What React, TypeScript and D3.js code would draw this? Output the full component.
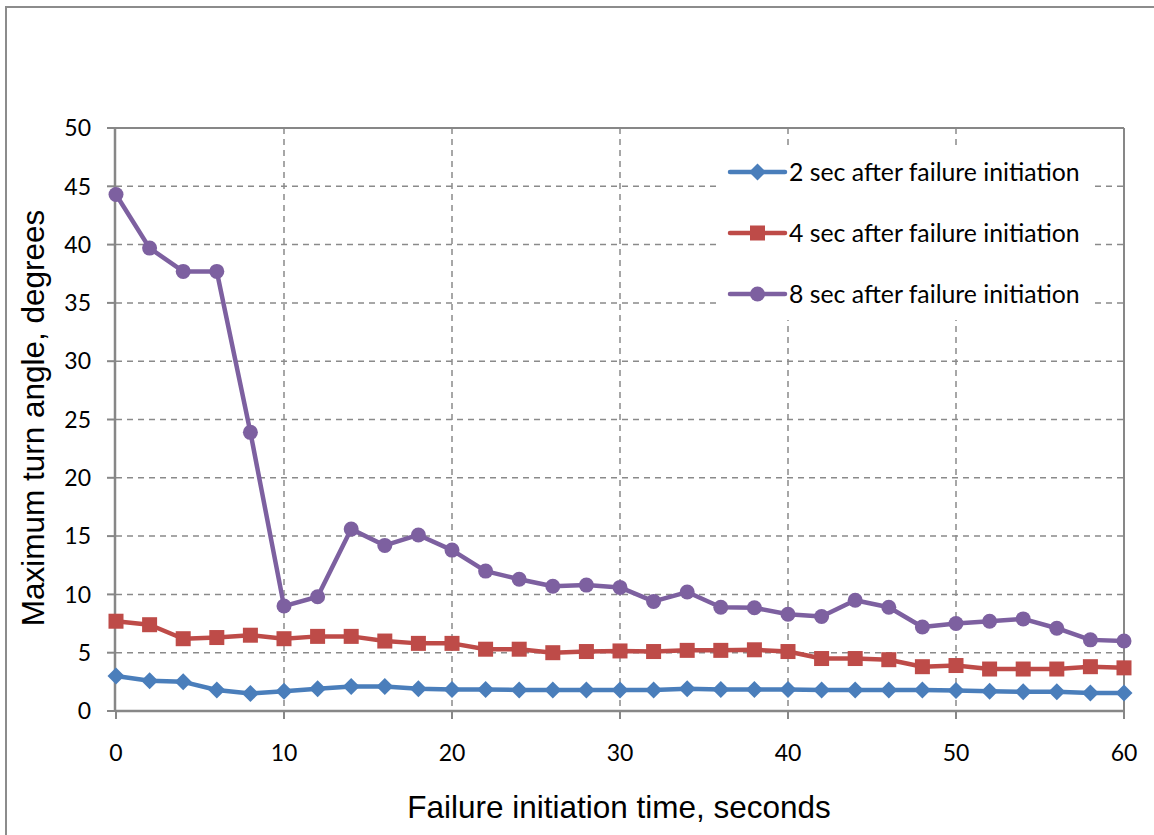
import React from "react";
import * as d3 from "d3";

const times = [0, 2, 4, 6, 8, 10, 12, 14, 16, 18, 20, 22, 24, 26, 28, 30, 32, 34, 36, 38, 40, 42, 44, 46, 48, 50, 52, 54, 56, 58, 60];
const sec2 = [3.0, 2.6, 2.5, 1.8, 1.5, 1.7, 1.9, 2.1, 2.1, 1.9, 1.85, 1.85, 1.8, 1.8, 1.8, 1.8, 1.8, 1.9, 1.85, 1.85, 1.85, 1.8, 1.8, 1.8, 1.8, 1.75, 1.7, 1.65, 1.65, 1.55, 1.55];
const sec4 = [7.7, 7.4, 6.2, 6.3, 6.5, 6.2, 6.4, 6.4, 6.0, 5.8, 5.8, 5.3, 5.3, 5.0, 5.1, 5.15, 5.1, 5.2, 5.2, 5.25, 5.1, 4.5, 4.5, 4.4, 3.8, 3.9, 3.6, 3.6, 3.6, 3.8, 3.7];
const sec8 = [44.3, 39.7, 37.7, 37.7, 23.9, 9.0, 9.8, 15.6, 14.2, 15.1, 13.8, 12.0, 11.3, 10.7, 10.8, 10.6, 9.4, 10.2, 8.9, 8.85, 8.3, 8.1, 9.5, 8.9, 7.2, 7.5, 7.7, 7.9, 7.1, 6.1, 6.0];
const seriesNames = ["2 sec after failure initiation", "4 sec after failure initiation", "8 sec after failure initiation"];
const seriesColors = ["#4a7ebb", "#be4b48", "#7d60a0"];
const seriesMarkers = ["diamond", "square", "circle"];
const xTicks = [0, 10, 20, 30, 40, 50, 60];
const yTicks = [0, 5, 10, 15, 20, 25, 30, 35, 40, 45, 50];
const xTitle = "Failure initiation time, seconds";
const yTitle = "Maximum turn angle, degrees";

const W = 1154, H = 835;
const L = 116, R = 1124, T = 128, B = 711;

export default function App() {
  const x = d3.scaleLinear().domain([0, 60]).range([L, R]);
  const y = d3.scaleLinear().domain([0, 50]).range([B, T]);
  const data = [sec2, sec4, sec8];
  const line = d3.line<number>().x((_, i) => x(times[i])).y((d) => y(d));
  const grid = "#8a8a8a";
  const axis = "#878787";
  const tickFont = "Lato, 'Open Sans', sans-serif";
  const titleFont = "'Liberation Sans', Arial, sans-serif";

  const marker = (kind: string, cx: number, cy: number, color: string, key: string | number) => {
    if (kind === "diamond") {
      const s = 8.5;
      return <path key={key} d={`M${cx},${cy - s}L${cx + s},${cy}L${cx},${cy + s}L${cx - s},${cy}Z`} fill={color} />;
    }
    if (kind === "square") {
      return <rect key={key} x={cx - 7.5} y={cy - 7.5} width={15} height={15} fill={color} />;
    }
    return <circle key={key} cx={cx} cy={cy} r={7.5} fill={color} />;
  };

  const legendX = 730, legendYs = [172, 233, 294];

  return (
    <svg width={W} height={H} style={{ position: "absolute", left: 0, top: 0, background: "#fff" }}>
      <rect x={6} y={7} width={W + 10} height={H + 10} fill="#fff" stroke="#8c8c8c" strokeWidth={2} />
      {yTicks.filter((t) => t > 0 && t < 50).map((t) => (
        <line key={"gy" + t} x1={L} x2={R} y1={y(t)} y2={y(t)} stroke={grid} strokeWidth={1.5} strokeDasharray="6,5" />
      ))}
      {xTicks.filter((t) => t > 0 && t < 60).map((t) => (
        <line key={"gx" + t} x1={x(t)} x2={x(t)} y1={T} y2={B} stroke={grid} strokeWidth={1.5} strokeDasharray="6,5" />
      ))}
      <line x1={L} x2={R} y1={T} y2={T} stroke={axis} strokeWidth={2} />
      <line x1={R} x2={R} y1={T} y2={B} stroke={axis} strokeWidth={2} />
      <line x1={L - 1} x2={L - 1} y1={T - 1} y2={B} stroke={axis} strokeWidth={2.5} />
      <line x1={L - 1} x2={R + 1} y1={B} y2={B} stroke={axis} strokeWidth={2.5} />
      {yTicks.map((t) => (
        <g key={"yt" + t}>
          <line x1={L - 9} x2={L} y1={y(t)} y2={y(t)} stroke={axis} strokeWidth={2} />
          <text x={91} y={y(t)} dy="0.36em" textAnchor="end" fontFamily={tickFont} fontSize={23} fill="#000">{t}</text>
        </g>
      ))}
      {xTicks.map((t) => (
        <g key={"xt" + t}>
          <line x1={x(t)} x2={x(t)} y1={B} y2={B + 8} stroke={axis} strokeWidth={2} />
          <text x={x(t)} y={761} textAnchor="middle" fontFamily={tickFont} fontSize={23} fill="#000">{t}</text>
        </g>
      ))}
      {data.map((vals, si) => (
        <g key={"s" + si}>
          <path d={line(vals) as string} fill="none" stroke={seriesColors[si]} strokeWidth={4.5} strokeLinejoin="round" />
          {vals.map((v, i) => marker(seriesMarkers[si], x(times[i]), y(v), seriesColors[si], i))}
        </g>
      ))}
      <rect x={720} y={148} width={372} height={172} fill="#fff" />
      {seriesNames.map((n, i) => (
        <g key={"lg" + i}>
          <line x1={legendX} x2={legendX + 55} y1={legendYs[i]} y2={legendYs[i]} stroke={seriesColors[i]} strokeWidth={4.5} strokeLinecap="round" />
          {marker(seriesMarkers[i], legendX + 27.5, legendYs[i], seriesColors[i], "m" + i)}
          <text x={789} y={legendYs[i]} dy="0.36em" fontFamily={tickFont} fontSize={24.8} fill="#000">{n}</text>
        </g>
      ))}
      <text x={619} y={818} textAnchor="middle" fontFamily={titleFont} fontSize={31.5} fill="#000">{xTitle}</text>
      <text transform={`translate(44,${418}) rotate(-90)`} textAnchor="middle" fontFamily={titleFont} fontSize={31.5} fill="#000">{yTitle}</text>
    </svg>
  );
}
